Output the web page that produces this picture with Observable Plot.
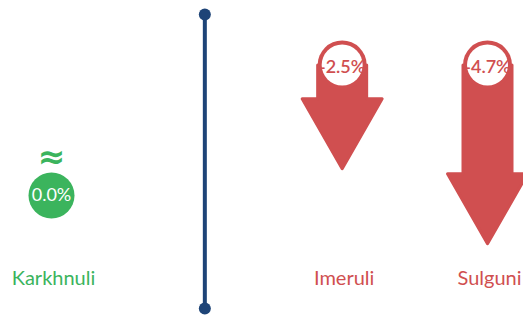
<!DOCTYPE html>
<html>
<head>
<meta charset="utf-8">
<script src="https://cdn.jsdelivr.net/npm/d3@7"></script>
<script src="https://cdn.jsdelivr.net/npm/@observablehq/plot@0.6"></script>
<style>
  html, body { margin: 0; padding: 0; background: #fff; overflow: hidden; }
  #chart { width: 523px; height: 316px; overflow: hidden; }
</style>
</head>
<body>
<div id="chart"></div>
<script>
// ---- data ----
const slots = ["Karkhnuli", "divider", "Imeruli", "Sulguni"];
const categories = ["Karkhnuli", "Imeruli", "Sulguni"];
const changes = [0.0, -2.5, -4.7];
const changeLabels = ["0.0%", "-2.5%", "-4.7%"];

// ---- styles ----
const GREEN = "#3bb45d";
const RED = "#d04f50";
const NAVY = "#1e4477";
const FONT = "Lato, 'Open Sans', sans-serif";
const pxPerUnitX = 436 / 3;    // from x range below
const pxPerUnitY = 160.3 / 4.7; // from y range below
const shaftHalf = 24.5 / pxPerUnitX;
const headHalf = 40 / pxPerUnitX;
const headLen = 70 / pxPerUnitY;
const capLift = 18.5;             // px from arrow origin up to badge centre

const rows = categories.map((c, i) => ({
  cat: c,
  slot: slots.indexOf(c),
  value: changes[i],
  label: changeLabels[i]
}));
const down = rows.filter(d => d.value < 0);
const flat = rows.filter(d => d.value === 0);

// arrow outlines built from each value
function arrowOutline(top) {
  return down.flatMap(d => {
    const x = d.slot, tip = d.value, base = d.value + headLen;
    return [
      [x - shaftHalf, top], [x - shaftHalf, base], [x - headHalf, base],
      [x, tip], [x + headHalf, base], [x + shaftHalf, base], [x + shaftHalf, top]
    ].map(([px, py]) => ({cat: d.cat, x: px, y: py}));
  });
}
const arrowBack = arrowOutline(capLift / pxPerUnitY);

const colorOf = d => d.value < 0 ? RED : GREEN;
const arrowStyle = {x: "x", y: "y", z: "cat", fill: RED, stroke: RED, strokeWidth: 3, strokeLinejoin: "round", curve: "linear"};

const chart = Plot.plot({
  width: 523,
  height: 316,
  margin: 0,
  style: {background: "#fff", fontFamily: FONT, overflow: "hidden"},
  x: {type: "linear", domain: [0, 3], range: [51, 487], axis: null},
  y: {type: "linear", domain: [0, -4.7], range: [83, 243.3], axis: null},
  marks: [
    // divider
    Plot.ruleX([slots.indexOf("divider")], {stroke: NAVY, strokeWidth: 4, dx: 8, insetTop: 14, insetBottom: 8}),
    Plot.dot([slots.indexOf("divider")], {x: d => d, frameAnchor: "top", dy: 14, dx: 8, r: 6, fill: NAVY}),
    Plot.dot([slots.indexOf("divider")], {x: d => d, frameAnchor: "bottom", dy: -8, dx: 8, r: 6, fill: NAVY}),
    // arrows
    Plot.line(arrowBack, arrowStyle),
    Plot.dot(down, {x: "slot", y: 0, dy: -capLift, r: 24.5, fill: RED}),
    Plot.dot(down, {x: "slot", y: 0, dy: -capLift, r: 20.5, fill: "#fff"}),
    Plot.text(down, {x: "slot", y: 0, dy: -16, text: "label", fill: RED, fontSize: 18, fontWeight: 600, fontFamily: FONT}),
    // neutral
    Plot.dot(flat, {x: "slot", y: 0, dy: 112, r: 23, fill: GREEN}),
    Plot.text(flat, {x: "slot", y: 0, dy: 112, text: "label", fill: "#fff", fontSize: 18, fontFamily: FONT}),
    Plot.text(flat, {x: "slot", y: 0, dy: 74, text: () => "≈", fill: GREEN, fontSize: 33, fontWeight: "bold", fontFamily: "DejaVu Sans"}),
    // category labels
    Plot.text(rows, {x: "slot", frameAnchor: "bottom", dy: -32, dx: 2, text: "cat", fill: colorOf, fontSize: 20, fontFamily: FONT})
  ]
});
document.getElementById("chart").append(chart);
</script>
</body>
</html>
